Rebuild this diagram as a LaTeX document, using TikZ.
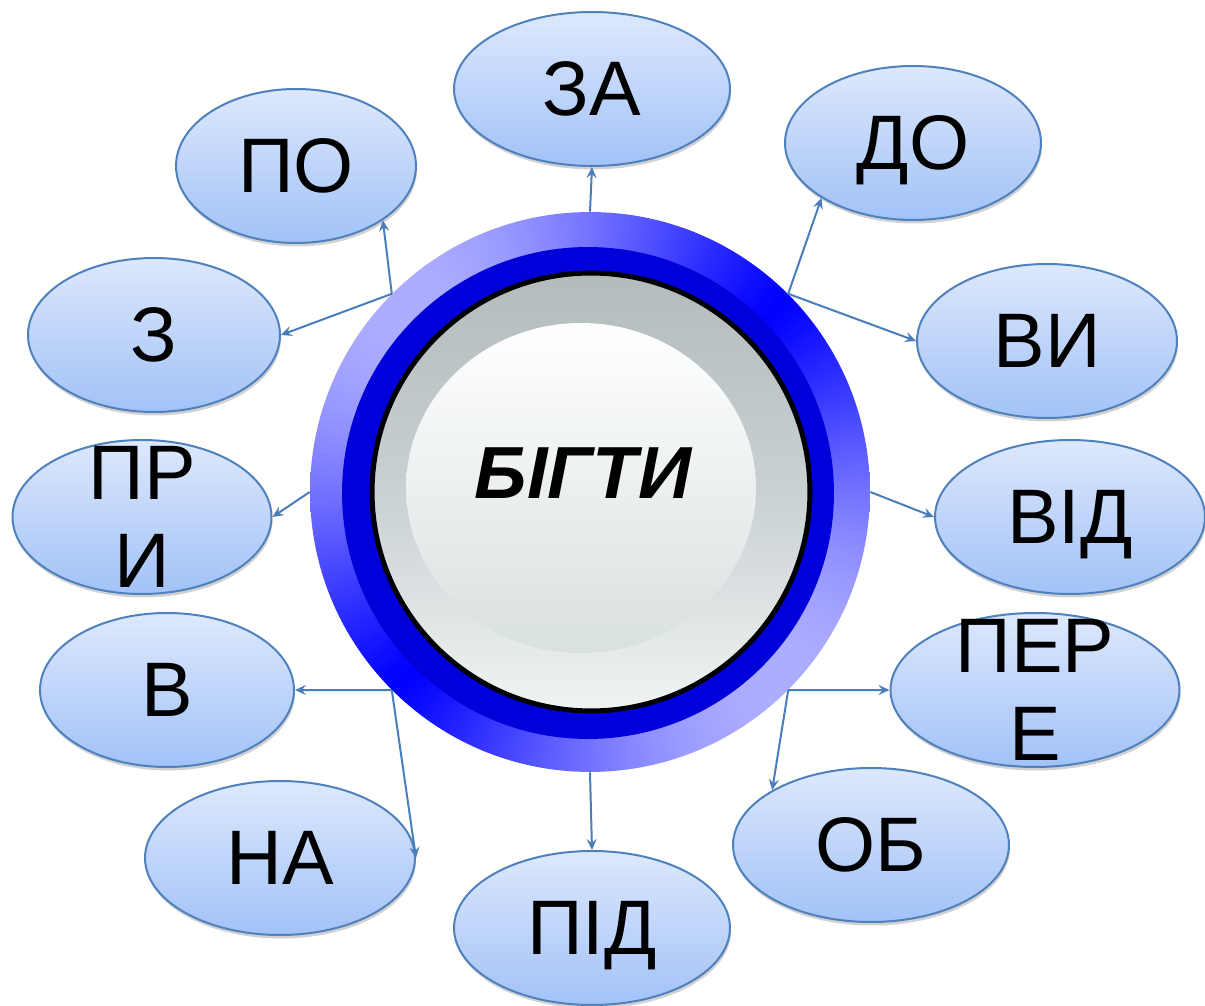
\documentclass[tikz,border=0pt]{standalone}
\usepackage{fontspec}
\setmainfont{Liberation Sans}
\usetikzlibrary{shapes.geometric, shadows, arrows.meta}

\definecolor{petalline}{HTML}{4F81BD}
\definecolor{petaltop}{HTML}{DDE8FC}
\definecolor{petalbottom}{HTML}{A2C2F7}
\definecolor{arrowblue}{HTML}{4A7EBB}
\definecolor{ringdark}{HTML}{0000DA}
\definecolor{discA}{HTML}{B3BBBC}
\definecolor{discB}{HTML}{CAD1D2}
\definecolor{discC}{HTML}{EFF3F3}
\definecolor{glowbottom}{HTML}{D9E0E0}

\pgfdeclarefunctionalshading{ringconic}{\pgfpoint{-50bp}{-50bp}}{\pgfpoint{50bp}{50bp}}{}{
  2 copy mul 2 mul 3 1 roll dup mul exch dup mul add 0.0001 add div
  neg 1 add 0.5 mul 0.6 exp 0.68 mul dup 1
}

\tikzset{
  petal/.style={ellipse, draw=petalline, line width=0.04cm, top color=petaltop, bottom color=petalbottom,
    minimum height=3.08cm, inner sep=0pt, text depth=0pt, font=\fontsize{44}{50}\selectfont,
    drop shadow={shadow xshift=0.02cm, shadow yshift=-0.07cm, fill=black, opacity=0.18}},
  petaltext/.style={align=center, inner sep=0pt, text depth=0pt, font=\fontsize{44}{50}\selectfont},
  link/.style={draw=arrowblue, line width=0.04cm, -{Stealth[length=0.22cm, width=0.2cm, inset=0.08cm]}}
}

\begin{document}
\begin{tikzpicture}[x=0.02cm, y=-0.02cm]
  \path[use as bounding box, fill=white] (0,0) rectangle (1205,1006);

  % Petals
  \foreach \name/\x/\y/\w/\txt in {za/592/89/5.52/ЗА, do/913/143/5.12/ДО, po/296/166/4.8/ПО,
      z/154/335/5.04/З, vy/1047/341/5.2/ВИ, vid/1070/517/5.4/ВІД, v/167/690/5.08/В,
      na/280/858/5.4/НА, ob/871/845/5.52/ОБ, pid/592/928/5.52/ПІД} {
    \node[petal, minimum width=\w cm] (\name) at (\x,\y) {\txt};
  }
  \node[petal, minimum width=5.18cm, label={[petaltext]center:{ПР\\И}}] (pry) at (142,517) {};
  \node[petal, minimum width=5.78cm, label={[petaltext]center:{ПЕР\\Е}}] (pere) at (1035,690) {};

  % Hub
  \node[circle, minimum size=11.2cm, inner sep=0pt] (hub) at (590,492) {};
  \shade[shading=ringconic] (hub.center) circle[radius=5.6cm];
  \fill[ringdark] (588,493) circle[radius=4.92cm];
  \shade[top color=discA, bottom color=discC, middle color=discB] (591,492) circle[radius=4.36cm];
  \shade[top color=white, bottom color=glowbottom] (581,488) ellipse[x radius=3.5cm, y radius=3.3cm];
  \draw[line width=0.1cm] (591,492) circle[radius=4.38cm];
  \node[font=\bfseries\itshape\fontsize{42}{48}\selectfont, inner sep=0pt] (bigtyText) at (583,473) {БІГТИ};

  \draw[link] (hub.90) -- (za.270);
  \draw[link] (hub.45) -- (do.211);
  \draw[link] (hub.45) -- (vy.180);
  \draw[link] (hub.135) -- (po.328);
  \draw[link] (hub.135) -- (z.0);
  \draw[link] (hub.180) -- (pry.0);
  \draw[link] (hub.0) -- (vid.180);
  \draw[link] (hub.225) -- (v.0);
  \draw[link] (hub.225) -- (na.0);
  \draw[link] (hub.315) -- (pere.180);
  \draw[link] (hub.315) -- (ob.151);
  \draw[link] (hub.270) -- (pid.90);
\end{tikzpicture}
\end{document}
